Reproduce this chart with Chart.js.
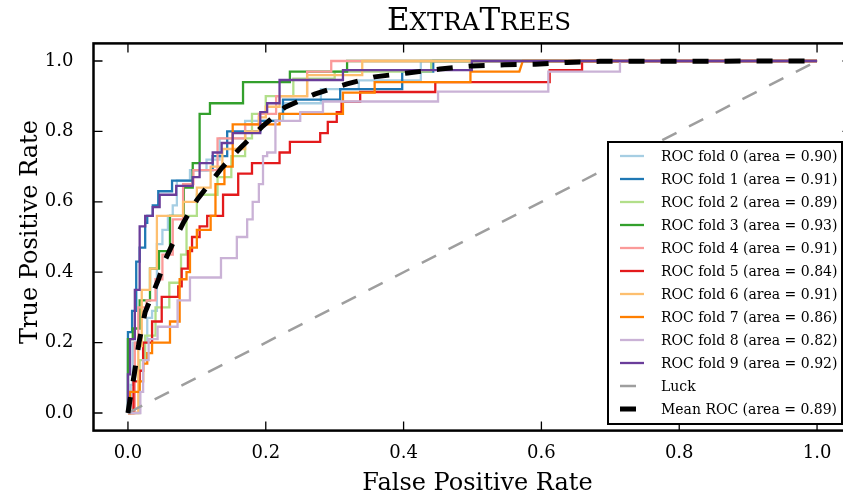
<!DOCTYPE html>
<html>
<head>
<meta charset="utf-8">
<title>ExtraTrees ROC</title>
<script src="https://cdn.jsdelivr.net/npm/chart.js@4.4.1/dist/chart.umd.min.js"></script>
<style>
    html, body { margin: 0; padding: 0; background: #fff; overflow: hidden; }
    canvas { display: block; }
</style>
</head>
<body>
<canvas id="rocChart" width="880" height="500"></canvas>
<script>
//ROC curves of the 10 folds, [false positive rate, true positive rate] corners
const fold0 = [[0,0],[0.004,0],[0.004,0.08],[0.007,0.08],[0.007,0.2],[0.028,0.2],[0.028,0.27],[0.035,0.27],[0.035,0.29],[0.042,0.29],[0.042,0.48],[0.05,0.48],[0.05,0.52],[0.058,0.52],[0.058,0.56],[0.065,0.56],[0.065,0.59],[0.071,0.59],[0.071,0.66],[0.09,0.66],[0.09,0.69],[0.114,0.69],[0.114,0.72],[0.133,0.72],[0.133,0.78],[0.17,0.78],[0.17,0.83],[0.225,0.83],[0.225,0.88],[0.28,0.88],[0.28,0.92],[0.335,0.92],[0.335,0.945],[0.425,0.945],[0.425,1],[1,1]];
const fold1 = [[0,0],[0,0.23],[0.006,0.23],[0.006,0.29],[0.012,0.29],[0.012,0.43],[0.017,0.43],[0.017,0.47],[0.025,0.47],[0.025,0.54],[0.028,0.54],[0.028,0.56],[0.036,0.56],[0.036,0.59],[0.044,0.59],[0.044,0.63],[0.064,0.63],[0.064,0.66],[0.094,0.66],[0.094,0.69],[0.123,0.69],[0.123,0.73],[0.144,0.73],[0.144,0.8],[0.192,0.8],[0.192,0.83],[0.22,0.83],[0.22,0.85],[0.225,0.85],[0.225,0.89],[0.308,0.89],[0.308,0.92],[0.398,0.92],[0.398,0.97],[0.443,0.97],[0.443,1],[1,1]];
const fold2 = [[0,0],[0.017,0],[0.017,0.15],[0.025,0.15],[0.025,0.22],[0.04,0.22],[0.04,0.3],[0.06,0.3],[0.06,0.37],[0.077,0.37],[0.077,0.45],[0.085,0.45],[0.085,0.56],[0.1,0.56],[0.1,0.62],[0.13,0.62],[0.13,0.67],[0.15,0.67],[0.15,0.73],[0.17,0.73],[0.17,0.78],[0.18,0.78],[0.18,0.85],[0.2,0.85],[0.2,0.9],[0.24,0.9],[0.24,0.95],[0.3,0.95],[0.3,0.97],[0.44,0.97],[0.44,1],[1,1]];
const fold3 = [[0,0],[0,0.21],[0.007,0.21],[0.007,0.24],[0.017,0.24],[0.017,0.32],[0.032,0.32],[0.032,0.41],[0.045,0.41],[0.045,0.46],[0.061,0.46],[0.061,0.56],[0.081,0.56],[0.081,0.64],[0.094,0.64],[0.094,0.71],[0.104,0.71],[0.104,0.85],[0.119,0.85],[0.119,0.88],[0.167,0.88],[0.167,0.94],[0.235,0.94],[0.235,0.97],[0.318,0.97],[0.318,1],[1,1]];
const fold4 = [[0,0],[0.01,0],[0.01,0.2],[0.015,0.2],[0.015,0.3],[0.027,0.3],[0.027,0.32],[0.04,0.32],[0.04,0.38],[0.05,0.38],[0.05,0.45],[0.065,0.45],[0.065,0.55],[0.08,0.55],[0.08,0.65],[0.095,0.65],[0.095,0.69],[0.13,0.69],[0.13,0.78],[0.17,0.78],[0.17,0.82],[0.19,0.82],[0.19,0.85],[0.215,0.85],[0.215,0.9],[0.26,0.9],[0.26,0.97],[0.295,0.97],[0.295,1],[1,1]];
const fold5 = [[0,0],[0.008,0],[0.008,0.09],[0.017,0.09],[0.017,0.12],[0.022,0.12],[0.022,0.2],[0.035,0.2],[0.035,0.26],[0.049,0.26],[0.049,0.33],[0.073,0.33],[0.073,0.36],[0.078,0.36],[0.078,0.41],[0.087,0.41],[0.087,0.46],[0.093,0.46],[0.093,0.5],[0.104,0.5],[0.104,0.53],[0.115,0.53],[0.115,0.56],[0.138,0.56],[0.138,0.62],[0.16,0.62],[0.16,0.68],[0.18,0.68],[0.18,0.71],[0.22,0.71],[0.22,0.74],[0.235,0.74],[0.235,0.77],[0.279,0.77],[0.279,0.795],[0.29,0.795],[0.29,0.827],[0.303,0.827],[0.303,0.855],[0.31,0.855],[0.31,0.884],[0.337,0.884],[0.337,0.912],[0.446,0.912],[0.446,0.94],[0.612,0.94],[0.612,0.974],[0.659,0.974],[0.659,1],[1,1]];
const fold6 = [[0,0],[0.015,0],[0.015,0.19],[0.02,0.19],[0.02,0.35],[0.032,0.35],[0.032,0.41],[0.042,0.41],[0.042,0.56],[0.08,0.56],[0.08,0.6],[0.1,0.6],[0.1,0.64],[0.12,0.64],[0.12,0.7],[0.137,0.7],[0.137,0.75],[0.17,0.75],[0.17,0.8],[0.19,0.8],[0.19,0.84],[0.2,0.84],[0.2,0.87],[0.22,0.87],[0.22,0.9],[0.26,0.9],[0.26,0.96],[0.34,0.96],[0.34,1],[1,1]];
const fold7 = [[0,0],[0.003,0],[0.003,0.06],[0.017,0.06],[0.017,0.09],[0.022,0.09],[0.022,0.14],[0.028,0.14],[0.028,0.17],[0.035,0.17],[0.035,0.2],[0.061,0.2],[0.061,0.26],[0.075,0.26],[0.075,0.38],[0.085,0.38],[0.085,0.4],[0.09,0.4],[0.09,0.47],[0.1,0.47],[0.1,0.52],[0.12,0.52],[0.12,0.56],[0.127,0.56],[0.127,0.65],[0.14,0.65],[0.14,0.7],[0.152,0.7],[0.152,0.82],[0.22,0.82],[0.22,0.85],[0.312,0.85],[0.312,0.91],[0.358,0.91],[0.358,0.94],[0.497,0.94],[0.497,0.97],[0.568,0.97],[0.573,1],[1,1]];
const fold8 = [[0,0],[0.018,0],[0.018,0.06],[0.022,0.06],[0.022,0.15],[0.03,0.15],[0.03,0.21],[0.043,0.21],[0.043,0.245],[0.072,0.245],[0.072,0.32],[0.09,0.32],[0.09,0.385],[0.135,0.385],[0.135,0.44],[0.158,0.44],[0.158,0.5],[0.173,0.5],[0.173,0.55],[0.181,0.55],[0.181,0.6],[0.19,0.6],[0.19,0.65],[0.196,0.65],[0.196,0.73],[0.202,0.73],[0.202,0.74],[0.214,0.74],[0.214,0.83],[0.25,0.83],[0.25,0.855],[0.283,0.855],[0.283,0.885],[0.45,0.885],[0.45,0.913],[0.61,0.913],[0.61,0.97],[0.714,0.97],[0.714,1],[1,1]];
const fold9 = [[0,0],[0,0.11],[0.003,0.11],[0.003,0.21],[0.01,0.21],[0.01,0.35],[0.017,0.35],[0.017,0.53],[0.025,0.53],[0.025,0.56],[0.036,0.56],[0.036,0.585],[0.046,0.585],[0.046,0.62],[0.07,0.62],[0.07,0.645],[0.094,0.645],[0.094,0.67],[0.104,0.67],[0.104,0.71],[0.123,0.71],[0.123,0.74],[0.136,0.74],[0.136,0.767],[0.152,0.767],[0.152,0.795],[0.192,0.795],[0.192,0.855],[0.202,0.855],[0.202,0.88],[0.22,0.88],[0.22,0.946],[0.312,0.946],[0.312,0.974],[0.499,0.974],[0.499,1],[1,1]];

//mean ROC (dashed black) and the chance diagonal
const meanRoc = [[0,0],[0.003,0.037],[0.009,0.108],[0.016,0.2],[0.025,0.287],[0.035,0.335],[0.044,0.378],[0.054,0.435],[0.064,0.477],[0.081,0.543],[0.1,0.605],[0.119,0.653],[0.136,0.696],[0.163,0.753],[0.194,0.812],[0.228,0.869],[0.271,0.906],[0.318,0.935],[0.358,0.955],[0.406,0.966],[0.453,0.977],[0.499,0.986],[0.546,0.989],[0.591,0.991],[0.637,0.996],[0.685,0.999],[1,1]];
const luckLine = [[0,0],[1,1]];

const foldAucs = [0.90, 0.91, 0.89, 0.93, 0.91, 0.84, 0.91, 0.86, 0.82, 0.92];
const meanAuc = 0.89;
const foldColors = ['#a6cee3', '#1f78b4', '#b2df8a', '#33a02c', '#fb9a99', '#e31a1c', '#fdbf6f', '#ff7f00', '#cab2d6', '#6a3d9a'];
const xTicks = [0, 0.2, 0.4, 0.6, 0.8, 1.0];
const yTicks = [0, 0.2, 0.4, 0.6, 0.8, 1.0];

const SERIF = "'DejaVu Serif', 'Liberation Serif', serif";
const folds = [fold0, fold1, fold2, fold3, fold4, fold5, fold6, fold7, fold8, fold9];

//build the datasets, later ones drawn on top like in matplotlib
const datasets = folds.map((pts, i) => ({
    label: `ROC fold ${i} (area = ${foldAucs[i].toFixed(2)})`,
    data: pts,
    borderColor: foldColors[i],
    borderWidth: 2.3,
    order: 20 - i
}));
datasets.push({
    label: 'Luck',
    data: luckLine,
    borderColor: '#9e9e9e',
    borderWidth: 2.5,
    borderDash: [16, 14],
    order: 2
});
datasets.push({
    label: `Mean ROC (area = ${meanAuc.toFixed(2)})`,
    data: meanRoc,
    borderColor: '#000',
    borderWidth: 5,
    borderDash: [16, 16],
    order: 1
});

//plugin for the inward ticks, axes frame, title, axis titles and the legend box
const framePlugin = {
    id: 'frame',
    afterDraw(chart) {
        const { ctx, chartArea: a, scales } = chart;
        const tickLen = 9;
        ctx.save();

        ctx.strokeStyle = '#000';
        ctx.lineWidth = 1.3;
        ctx.beginPath();
        xTicks.forEach(v => {
            const px = scales.x.getPixelForValue(v);
            ctx.moveTo(px, a.bottom); ctx.lineTo(px, a.bottom - tickLen);
            ctx.moveTo(px, a.top); ctx.lineTo(px, a.top + tickLen);
        });
        yTicks.forEach(v => {
            const py = scales.y.getPixelForValue(v);
            ctx.moveTo(a.left, py); ctx.lineTo(a.left + tickLen, py);
            ctx.moveTo(a.right, py); ctx.lineTo(a.right - tickLen, py);
        });
        ctx.stroke();
        ctx.lineWidth = 2.5;
        ctx.strokeRect(a.left, a.top, a.right - a.left, a.bottom - a.top);

        //title in small caps
        ctx.fillStyle = '#000';
        ctx.textBaseline = 'alphabetic';
        const parts = [['E', 31], ['XTRA', 24.5], ['T', 31], ['REES', 24.5]];
        let total = 0;
        parts.forEach(p => { ctx.font = `${p[1]}px ${SERIF}`; total += ctx.measureText(p[0]).width; });
        let tx = 479 - total / 2;
        parts.forEach(p => {
            ctx.font = `${p[1]}px ${SERIF}`;
            ctx.fillText(p[0], tx, 30);
            tx += ctx.measureText(p[0]).width;
        });

        //axis titles
        ctx.font = `24px ${SERIF}`;
        ctx.textAlign = 'center';
        ctx.fillText('False Positive Rate', (a.left + a.right) / 2 + 5, 490);
        ctx.save();
        ctx.translate(37, 232);
        ctx.rotate(-Math.PI / 2);
        ctx.fillText('True Positive Rate', 0, 0);
        ctx.restore();

        //legend
        const box = { left: 608, top: 142, right: a.right - 9.5, bottom: a.bottom - 6.6 };
        ctx.fillStyle = '#fff';
        ctx.fillRect(box.left, box.top, box.right - box.left, box.bottom - box.top);
        ctx.lineWidth = 2;
        ctx.strokeStyle = '#000';
        ctx.strokeRect(box.left, box.top, box.right - box.left, box.bottom - box.top);
        ctx.font = `14px ${SERIF}`;
        ctx.textAlign = 'left';
        ctx.textBaseline = 'middle';
        datasets.forEach((d, i) => {
            const y = 156 + i * 23;
            ctx.save();
            ctx.strokeStyle = d.borderColor;
            ctx.lineWidth = d.borderWidth;
            ctx.setLineDash(d.borderDash || []);
            ctx.beginPath();
            ctx.moveTo(620, y);
            ctx.lineTo(644, y);
            ctx.stroke();
            ctx.restore();
            ctx.fillStyle = '#000';
            ctx.fillText(d.label, 661, y + 1);
        });
        ctx.restore();
    }
};

new Chart(document.getElementById('rocChart').getContext('2d'), {
    type: 'scatter',
    data: { datasets: datasets },
    options: {
        responsive: false,
        devicePixelRatio: 1,
        animation: false,
        events: [],
        showLine: true,
        elements: {
            point: { radius: 0 },
            line: { tension: 0, fill: false, borderCapStyle: 'butt', borderJoinStyle: 'miter' }
        },
        layout: { padding: { left: 0, top: 43.4, right: 880 - 851.5, bottom: 0 } },
        scales: {
            x: {
                type: 'linear',
                min: -0.05,
                max: 1.05,
                afterBuildTicks: scale => { scale.ticks = xTicks.map(v => ({ value: v })); },
                afterFit: scale => { scale.height = 500 - 430.6; },
                grid: { display: false, drawTicks: false },
                border: { display: false },
                ticks: {
                    color: '#000',
                    padding: 12,
                    font: { family: SERIF, size: 18 },
                    callback: v => v.toFixed(1)
                }
            },
            y: {
                type: 'linear',
                min: -0.05,
                max: 1.05,
                afterBuildTicks: scale => { scale.ticks = yTicks.map(v => ({ value: v })); },
                afterFit: scale => { scale.width = 93.5; },
                grid: { display: false, drawTicks: false },
                border: { display: false },
                ticks: {
                    color: '#000',
                    padding: 20,
                    font: { family: SERIF, size: 18 },
                    callback: v => v.toFixed(1)
                }
            }
        },
        plugins: {
            legend: { display: false },
            tooltip: { enabled: false },
            title: { display: false }
        }
    },
    plugins: [framePlugin]
});
</script>
</body>
</html>
